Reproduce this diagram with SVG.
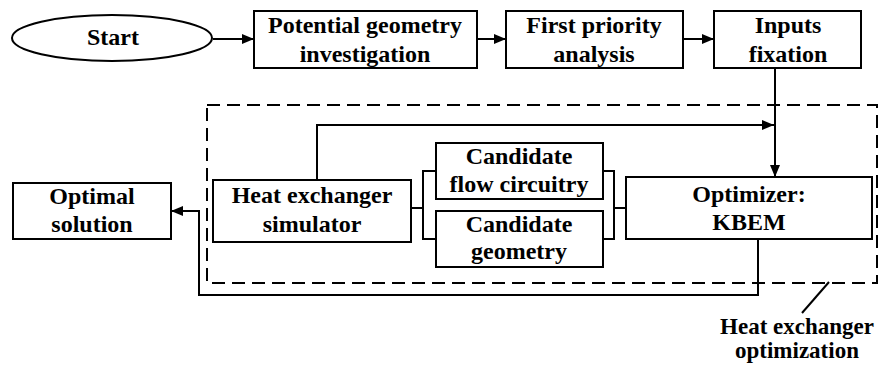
<svg xmlns="http://www.w3.org/2000/svg" width="879" height="365" viewBox="0 0 879 365">
  <style>
    .box { fill: #fff; stroke: #000; stroke-width: 2; }
    .ln { fill: none; stroke: #000; stroke-width: 2; }
    .dash { fill: none; stroke: #000; stroke-width: 2; stroke-dasharray: 13 7; }
    .lbl { font-size: 23px; }
  </style>
  <defs>
    <marker id="arrow" markerWidth="12" markerHeight="10" refX="12" refY="5" orient="auto" markerUnits="userSpaceOnUse">
      <path d="M0,0 L12,5 L0,10 Z" fill="#000"/>
    </marker>
  </defs>

  <!-- optimization loop boundary -->
  <rect id="optimization-frame" class="dash" x="207" y="105" width="670" height="178"/>

  <g id="connectors">
    <line class="ln" x1="213" y1="39" x2="254" y2="39" marker-end="url(#arrow)"/>
    <line class="ln" x1="477" y1="39" x2="506" y2="39" marker-end="url(#arrow)"/>
    <line class="ln" x1="683" y1="39" x2="714" y2="39" marker-end="url(#arrow)"/>
    <line class="ln" x1="775" y1="68" x2="775" y2="177" marker-end="url(#arrow)"/>
    <polyline class="ln" points="317,180 317,125 774,125" marker-end="url(#arrow)"/>
    <!-- simulator to candidates -->
    <polyline class="ln" points="411,208 423,208"/>
    <polyline class="ln" points="436,171 423,171 423,239 436,239"/>
    <!-- candidates to optimizer -->
    <polyline class="ln" points="603,171 614,171 614,239 603,239"/>
    <polyline class="ln" points="614,208 626,208"/>
    <!-- optimizer to optimal solution -->
    <polyline class="ln" points="758,239 758,295 199,295 199,211 171,211" marker-end="url(#arrow)"/>
    <!-- label leader -->
    <line class="ln" x1="829" y1="282" x2="802" y2="313"/>
  </g>

  <g font-family="Liberation Serif, Times New Roman, DejaVu Serif, serif" font-weight="bold" font-size="24" text-anchor="middle" fill="#000">
    <g id="start">
      <ellipse class="box" cx="112" cy="38" rx="100" ry="23"/>
      <text x="113" y="45">Start</text>
    </g>
    <g id="potential-geometry">
      <rect class="box" x="254" y="11" width="223" height="57"/>
      <text x="365" y="33">Potential geometry</text>
      <text x="365" y="62">investigation</text>
    </g>
    <g id="first-priority">
      <rect class="box" x="506" y="11" width="177" height="57"/>
      <text x="594" y="33">First priority</text>
      <text x="594" y="62">analysis</text>
    </g>
    <g id="inputs-fixation">
      <rect class="box" x="714" y="11" width="147" height="57"/>
      <text x="788" y="33">Inputs</text>
      <text x="788" y="62">fixation</text>
    </g>
    <g id="optimal-solution">
      <rect class="box" x="13" y="183" width="158" height="56"/>
      <text x="92" y="204">Optimal</text>
      <text x="92" y="232">solution</text>
    </g>
    <g id="simulator">
      <rect class="box" x="213" y="180" width="198" height="62"/>
      <text x="312" y="203">Heat exchanger</text>
      <text x="312" y="232">simulator</text>
    </g>
    <g id="candidate-circuitry">
      <rect class="box" x="436" y="143" width="167" height="56"/>
      <text x="519" y="164">Candidate</text>
      <text x="519" y="192">flow circuitry</text>
    </g>
    <g id="candidate-geometry">
      <rect class="box" x="436" y="211" width="167" height="56"/>
      <text x="519" y="232">Candidate</text>
      <text x="519" y="259">geometry</text>
    </g>
    <g id="optimizer">
      <rect class="box" x="626" y="177" width="246" height="62"/>
      <text x="749" y="202">Optimizer:</text>
      <text x="749" y="230">KBEM</text>
    </g>
    <g id="optimization-label">
      <text class="lbl" x="797" y="334">Heat exchanger</text>
      <text class="lbl" x="797" y="358">optimization</text>
    </g>
  </g>
</svg>
